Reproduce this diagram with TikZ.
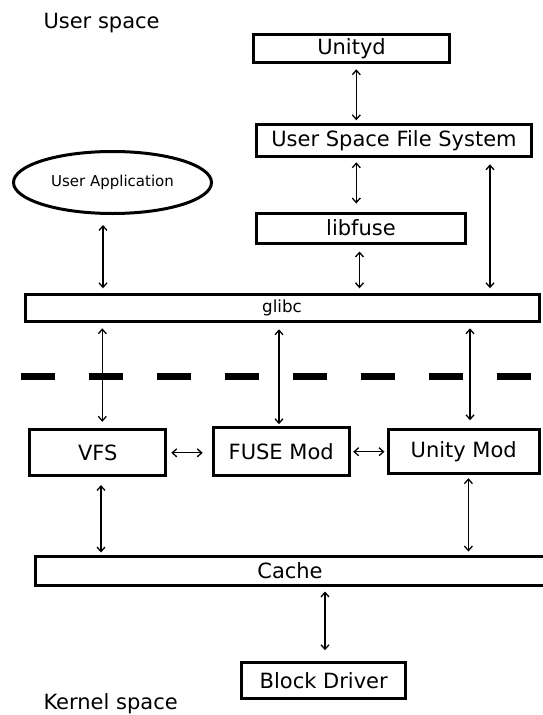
\documentclass[tikz,border=0pt]{standalone}
\usepackage{fontspec}
\setmainfont{DejaVu Sans}
\usetikzlibrary{shapes.geometric}
\usetikzlibrary{arrows.meta}

\tikzset{
  box/.style={draw, line width=3pt, inner sep=0pt, font=\fontsize{21}{25}\selectfont},
  conn/.style={<->, >={Straight Barb[length=4.5pt,width=8pt]}, line width=1.3pt},
  lbl/.style={anchor=base west, inner sep=0pt, font=\fontsize{21}{25}\selectfont},
}

\begin{document}
\begin{tikzpicture}[x=1pt, y=-1pt]
  \useasboundingbox (0,0) rectangle (542,715);
  \node[lbl] (uspace) at (43.3,28.3) {User space};
  \node[lbl] (kspace) at (43.3,709.5) {Kernel space};
  \node[box, minimum width=196pt, minimum height=28pt] (unityd) at (351.5,48.8) {Unityd};
  \node[box, minimum width=275pt, minimum height=32pt] (usfs) at (394,140.8) {User Space File System};
  \node[box, ellipse, minimum width=198pt, minimum height=62pt, font=\fontsize{15}{18}\selectfont] (app) at (112.5,182.5) {User Application};
  \node[box, minimum width=209pt, minimum height=30pt] (libfuse) at (361,228) {libfuse};
  \node[box, minimum width=514pt, minimum height=27pt, font=\fontsize{16.7}{20}\selectfont] (glibc) at (282,308.3) {glibc};
  \node[box, minimum width=136pt, minimum height=46pt] (vfs) at (97.8,452.8) {VFS};
  \node[box, minimum width=136pt, minimum height=48pt] (fusemod) at (281.2,451.7) {FUSE Mod};
  \node[box, minimum width=151pt, minimum height=44pt] (unitymod) at (463.7,451.3) {Unity Mod};
  \node[box, minimum width=510pt, minimum height=29pt] (cache) at (290,571) {Cache};
  \node[box, minimum width=164pt, minimum height=36pt] (block) at (323.7,680.3) {Block Driver};

  \coordinate (xa) at (103,0);
  \coordinate (xb) at (356.3,0);
  \coordinate (xc) at (359.5,0);
  \coordinate (xd) at (490,0);
  \coordinate (xe) at (102.3,0);
  \coordinate (xf) at (279,0);
  \coordinate (xg) at (470,0);
  \coordinate (xh) at (101,0);
  \coordinate (xi) at (468.4,0);
  \coordinate (xj) at (325,0);
  \coordinate (sepl) at (21,376);
  \coordinate (sepr) at (531,376);

  \draw[line width=7pt, dash pattern=on 34pt off 34pt] (sepl) -- (sepr);

  \draw[conn, shorten <=5pt, shorten >=3pt] (unityd.south -| xb) -- (usfs.north -| xb);
  \draw[conn, shorten <=4pt, shorten >=8pt] (usfs.south -| xb) -- (libfuse.north -| xb);
  \draw[conn, shorten <=7pt, shorten >=5pt] (libfuse.south -| xc) -- (glibc.north -| xc);
  \draw[conn, shorten <=6pt, shorten >=5pt] (usfs.south -| xd) -- (glibc.north -| xd);
  \draw[conn, shorten <=10pt, shorten >=5pt] (app.south -| xa) -- (glibc.north -| xa);
  \draw[conn, shorten <=5pt, shorten >=6.5pt] (glibc.south -| xe) -- (vfs.north -| xe);
  \draw[conn, shorten <=6pt, shorten >=2pt] (glibc.south -| xf) -- (fusemod.north -| xf);
  \draw[conn, shorten <=5pt, shorten >=7.5pt] (glibc.south -| xg) -- (unitymod.north -| xg);
  \draw[conn, shorten <=4pt, shorten >=9pt] (vfs.east) -- (vfs.east -| fusemod.west);
  \draw[conn, shorten <=2.5pt, shorten >=2.2pt] (fusemod.east) -- (fusemod.east -| unitymod.west);
  \draw[conn, shorten <=7.7pt, shorten >=2.5pt] (vfs.south -| xh) -- (cache.north -| xh);
  \draw[conn, shorten <=3.4pt, shorten >=3.5pt] (unitymod.south -| xi) -- (cache.north -| xi);
  \draw[conn, shorten <=4.5pt, shorten >=10.6pt] (cache.south -| xj) -- (block.north -| xj);
\end{tikzpicture}
\end{document}
